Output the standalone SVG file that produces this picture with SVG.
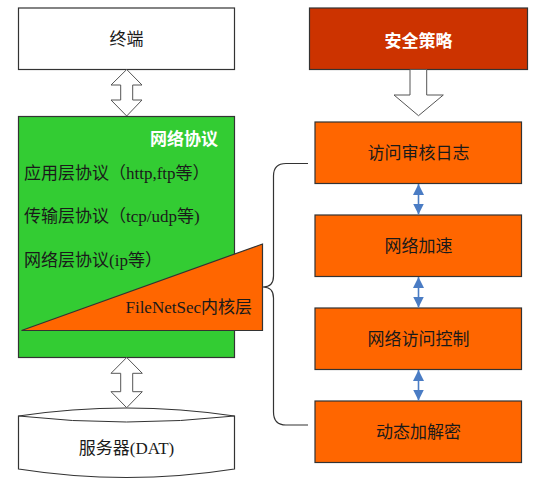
<svg xmlns="http://www.w3.org/2000/svg" width="541" height="487" viewBox="0 0 541 487">
<defs>
<style>
.t{font-family:"Liberation Serif","Noto Sans CJK SC",serif;font-size:17px;fill:#1a1a1a}
.c{text-anchor:middle;dominant-baseline:central}
.w{font-family:"Noto Sans CJK SC",sans-serif;font-weight:bold;font-size:17px;fill:#fff}
.box{stroke:#333;stroke-width:1.2}
.or{fill:#FF6600}
.open{fill:#fff;stroke:#555;stroke-width:1}
.blue{stroke:#4A7CC4;stroke-width:1.6;fill:none}
</style>
<marker id="bh" viewBox="0 0 10 10" refX="10" refY="5" markerWidth="11" markerHeight="11" markerUnits="userSpaceOnUse" orient="auto-start-reverse"><path d="M0,0 L10,5 L0,10 z" fill="#4A7CC4"/></marker>
</defs>
<g id="terminal"><rect class="box" x="18.5" y="8" width="216" height="61.5" fill="#fff"/><text class="t c" x="126.5" y="39">终端</text></g>
<g id="protocol">
<rect class="box" x="18.5" y="116.5" width="216" height="241" fill="#33CC33"/>
<text class="w" x="218" y="145" text-anchor="end">网络协议</text>
<text class="t" x="24" y="179">应用层协议（http,ftp等）</text>
<text class="t" x="24" y="222">传输层协议（tcp/udp等)</text>
<text class="t" x="24" y="266">网络层协议(ip等）</text>
</g>
<g id="kernel"><path class="box or" d="M21.5,330.5 L262.5,244 L262.5,330.5 Z"/><text class="t" x="252" y="313" text-anchor="end">FileNetSec内核层</text></g>
<g id="server">
<path class="box" fill="#fff" d="M18.5,416 Q126.5,400 234.5,416 V469 Q126.5,486 18.5,469 Z"/>
<path fill="none" stroke="#333" stroke-width="1" d="M18.5,416 Q126.5,428 234.5,416"/>
<text class="t c" x="126.5" y="448">服务器(DAT)</text>
</g>
<g id="policy"><rect class="box" x="309.5" y="8" width="218" height="61.5" fill="#CC3300"/><text class="w c" x="418.5" y="39">安全策略</text></g>
<g id="audit"><rect class="box or" x="315" y="122" width="206.5" height="61.5"/><text class="t c" x="418.5" y="153">访问审核日志</text></g>
<g id="accel"><rect class="box or" x="315" y="215" width="206.5" height="61.5"/><text class="t c" x="418.5" y="246">网络加速</text></g>
<g id="access"><rect class="box or" x="315" y="308" width="206.5" height="61.5"/><text class="t c" x="418.5" y="339">网络访问控制</text></g>
<g id="crypto"><rect class="box or" x="315" y="401" width="206.5" height="61.5"/><text class="t c" x="418.5" y="432">动态加解密</text></g>
<g id="connectors">
<path class="open" d="M126.7,69.5 L142,85 L132.7,85 L132.7,100 L142,100 L126.7,116 L111,100 L120.7,100 L120.7,85 L111,85 Z"/>
<path class="open" d="M126.7,357.5 L142.3,373.3 L132.7,373.3 L132.7,391.7 L142.3,391.7 L126.7,407.7 L111,391.7 L120.7,391.7 L120.7,373.3 L111,373.3 Z"/>
<path class="open" d="M410,69.5 L426.7,69.5 L426.7,95 L443.3,95 L418.5,115.7 L394,95 L410,95 Z"/>
<line class="blue" x1="418.5" y1="184" x2="418.5" y2="214.5" marker-start="url(#bh)" marker-end="url(#bh)"/>
<line class="blue" x1="418.5" y1="277" x2="418.5" y2="307.5" marker-start="url(#bh)" marker-end="url(#bh)"/>
<line class="blue" x1="418.5" y1="370" x2="418.5" y2="400.5" marker-start="url(#bh)" marker-end="url(#bh)"/>
<path fill="none" stroke="#333" stroke-width="1.2" d="M308,163.5 H286 Q273.5,163.5 273.5,176 V276 Q273.5,287 263,287 Q273.5,287 273.5,298 V412 Q273.5,425 286,425 H308"/>
</g>
</svg>
